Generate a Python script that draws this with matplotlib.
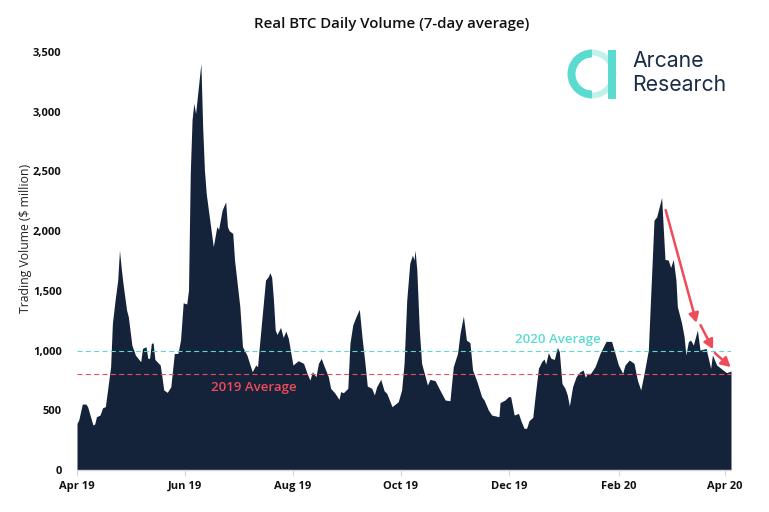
import matplotlib
matplotlib.use('Agg')
import matplotlib.pyplot as plt
from matplotlib.patches import Wedge, Rectangle

# days since 1 Apr 2019
days = [0, 1, 3, 5, 6, 9, 10, 11, 13, 14.5, 16, 17, 19, 20, 21.5, 23, 24, 25, 26, 28,
        29, 31, 33, 36, 37, 39, 40, 41, 42, 43, 44, 47, 48, 49, 51, 53, 54, 55, 57, 58.5,
        60, 62, 63, 64, 65, 66, 67, 70, 71, 72, 73, 74.5, 77, 79, 80, 82, 84, 85, 86, 88,
        89, 92, 93.5, 96, 99, 101, 102, 103, 106.5, 108, 109, 110, 111, 112, 113, 115, 116.5, 118, 119.4, 122,
        125, 128, 130, 131.6, 133, 135, 136.4, 138, 139, 142, 143.3, 145.8, 148, 149, 150.5, 153, 154.2, 155.8, 157.6, 159.5,
        161, 162.7, 164, 166.5, 168, 169.3, 171.6, 173.5, 175, 178, 181.5, 183.4, 184.8, 186.3, 188, 189.5, 190.4, 191, 192, 193.4,
        194.7, 198, 199.4, 202.3, 205, 208, 210.7, 212.6, 215, 216.4, 218.3, 220, 222, 223.5, 226, 228.6, 230, 232.4, 234.3, 238.4,
        239, 241.8, 243.7, 245, 247, 249.4, 251, 252.6, 254, 255.4, 257.5, 258.8, 260.7, 262.5, 263.9, 264.8, 266.3, 267.8, 269.7, 271.4,
        272.5, 274, 275.7, 277, 278.2, 280, 282, 284.2, 286, 287.2, 288.3, 290.2, 292.7, 295.5, 298.9, 302, 304, 305.9, 308.3, 309.6,
        312, 314.7, 316.6, 318.5, 320.4, 322.8, 324.1, 326, 327.5, 330.3, 331.3, 332.2, 334, 335.4, 336.9, 338.4, 339.2, 341.6, 343, 344,
        345.4, 346.7, 348.2, 350.5, 352, 355.4, 358, 359, 361.4, 365, 367, 369.5]
volume = [390, 420, 552, 552, 530, 377, 385, 446, 460, 522, 530, 640, 865, 1228, 1420, 1590, 1840, 1688, 1560, 1340,
          1283, 1046, 962, 906, 1018, 1032, 935, 935, 1060, 1065, 926, 879, 781, 670, 650, 697, 837, 976, 976, 1088,
          1400, 1390, 1507, 2483, 2930, 3070, 2985, 3404, 2874, 2511, 2316, 2148, 1870, 2037, 2015, 2176, 2246, 2037, 2003, 1981,
          1758, 1367, 1032, 962, 823, 879, 865, 1032, 1590, 1618, 1652, 1612, 1423, 1172, 1135, 1194, 1110, 1163, 1102, 879,
          915, 893, 809, 753, 823, 781, 893, 935, 893, 781, 684, 642, 591, 656, 647, 684, 1060, 1214, 1283, 1345,
          1116, 893, 703, 684, 628, 697, 759, 664, 642, 530, 572, 670, 893, 1423, 1730, 1800, 1758, 1841, 1674, 1172,
          893, 711, 759, 748, 670, 586, 580, 865, 976, 1144, 1289, 1088, 1066, 837, 739, 614, 586, 502, 460, 446,
          564, 586, 614, 614, 460, 474, 405, 349, 349, 413, 441, 614, 851, 907, 929, 887, 982, 935, 926, 1027,
          990, 725, 684, 628, 536, 698, 781, 823, 837, 776, 809, 809, 865, 976, 1077, 1077, 976, 879, 809, 879,
          921, 893, 753, 670, 809, 1004, 1451, 2092, 2120, 2282, 2009, 1763, 1758, 1696, 1763, 1590, 1367, 1228, 1116, 963,
          1074, 1088, 1046, 1172, 1004, 1018, 851, 963, 879, 837, 815, 829]

tick_days = [0, 61, 122, 183, 244, 306, 366]
tick_labels = ['Apr 19', 'Jun 19', 'Aug 19', 'Oct 19', 'Dec 19', 'Feb 20', 'Apr 20']
y_ticks = [0, 500, 1000, 1500, 2000, 2500, 3000, 3500]

avg_2019 = 800
avg_2020 = 1000

# start and end of the red arrows (day, volume)
arrows = [((332.6, 2176), (350, 1233)),
          ((352.3, 1213), (359.3, 1012)),
          ((360.4, 979), (369.3, 862))]

NAVY = '#14233a'
TEAL = '#5bdbd0'
RED = '#ee4c58'
W, H = 769, 512

plt.rcParams['font.family'] = ['Open Sans', 'DejaVu Sans']

fig = plt.figure(figsize=(W / 100, H / 100), dpi=100)
ax = fig.add_axes([77 / W, 1 - 470 / H, (731 - 77) / W, (470 - 52) / H])

ax.fill_between(days, volume, 0, color=NAVY, linewidth=0)
ax.axhline(avg_2020, color=TEAL, lw=0.8, ls=(0, (4.5, 3)))
ax.axhline(avg_2019, color=RED, lw=0.8, ls=(0, (4.5, 3)))

ax.set_xlim(0, 369.5)
ax.set_ylim(0, 3500)
ax.set_xticks(tick_days)
ax.set_xticklabels(tick_labels, fontsize=8, fontweight='bold', color='#111111')
ax.set_yticks(y_ticks)
ax.set_yticklabels([f'{v:,}' for v in y_ticks], fontsize=8, fontweight='bold', color='#111111')
ax.tick_params(axis='y', length=0, pad=11)
ax.tick_params(axis='x', length=4, width=0.8, color='#d4d6da', pad=4)
for side in ['top', 'right', 'left']:
    ax.spines[side].set_visible(False)
ax.spines['bottom'].set_color('#d4d6da')
ax.spines['bottom'].set_linewidth(1)

fig.text(26 / W, 1 - 238 / H, 'Trading Volume ($ million)', rotation=90, ha='center', va='center',
         fontsize=8.8, color='#222222')

fig.text(392 / W, 1 - 24 / H, 'Real BTC Daily Volume (7-day average)', ha='center', va='center',
         fontsize=10.8, fontweight='semibold', color='#111111')

fig.text(254 / W, 1 - 387 / H, '2019 Average', ha='center', va='center', fontsize=9.5,
         fontweight='semibold', color=RED)
fig.text(558 / W, 1 - 340 / H, '2020 Average', ha='center', va='center', fontsize=9.5,
         fontweight='semibold', color=TEAL)

for start, end in arrows:
    ax.annotate('', xy=end, xytext=start, annotation_clip=False,
                arrowprops=dict(arrowstyle='-|>,head_length=0.55,head_width=0.3', color=RED, lw=1.8,
                                shrinkA=0, shrinkB=0))

# logo, drawn in pixel coordinates
logo = fig.add_axes([0, 0, 1, 1], facecolor='none')
logo.set_xlim(0, W)
logo.set_ylim(H, 0)
logo.axis('off')
logo.add_patch(Wedge((592, 74), 24.5, 90, 270, width=8, color=TEAL, lw=0))
logo.add_patch(Wedge((592, 74), 24.5, 270, 90, width=6, color='#c2f1ec', lw=0))
logo.add_patch(Rectangle((608, 50), 8, 49, color=TEAL, lw=0))
logo.text(632, 61, 'Arcane', fontsize=15.3, color='#1b2c47', family='Inter', va='center')
logo.text(632, 85, 'Research', fontsize=15.3, color='#1b2c47', family='Inter', va='center')

fig.savefig('out.png', dpi=100)
